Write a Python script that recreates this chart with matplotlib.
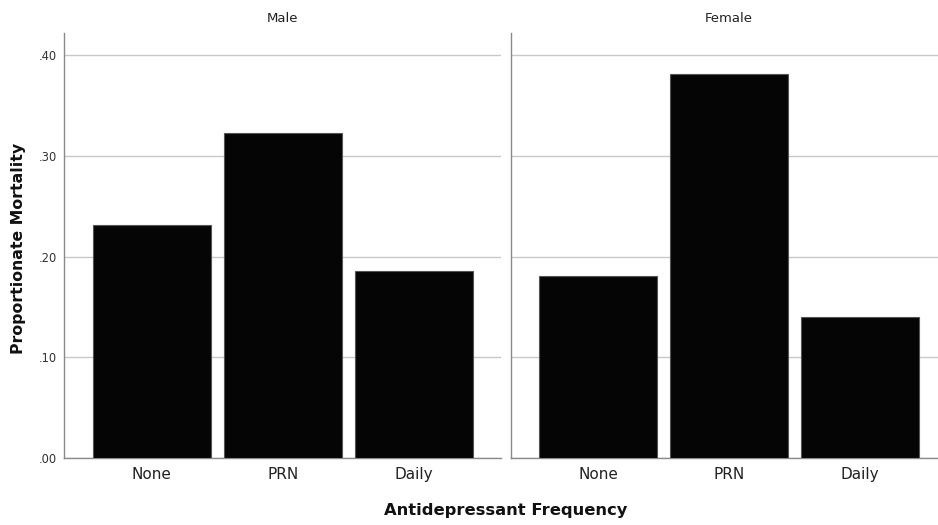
import matplotlib
matplotlib.use("Agg")
import matplotlib.pyplot as plt
from matplotlib.ticker import FuncFormatter

categories = ["None", "PRN", "Daily"]
panels = ["Male", "Female"]
male_values = [0.231, 0.323, 0.186]
female_values = [0.181, 0.381, 0.140]
y_ticks = [0.0, 0.1, 0.2, 0.3, 0.4]

W, H = 938, 525
fig = plt.figure(figsize=(W / 100, H / 100), dpi=100)
plt.rcParams['font.family'] = ['DejaVu Sans']

grid_c = "#c8c8c8"
spine_c = "#8a8a8a"

def px_axes(x0, x1, y0, y1):
    return fig.add_axes([x0 / W, 1 - y1 / H, (x1 - x0) / W, (y1 - y0) / H])

ax_m = px_axes(64.3, 501, 33.3, 458.3)
ax_f = px_axes(510.7, 947.4, 33.3, 458.3)

for ax, title, vals in [(ax_m, panels[0], male_values), (ax_f, panels[1], female_values)]:
    x = list(range(len(categories)))
    ax.bar(x, vals, width=0.9, color="#050505", edgecolor="#555555", linewidth=0.8, zorder=3)
    ax.set_xlim(-0.666, 2.666)
    ax.set_ylim(0, 0.4216)
    ax.set_yticks(y_ticks)
    ax.yaxis.grid(True, color=grid_c, linewidth=1.0, zorder=0)
    ax.set_axisbelow(True)
    ax.set_xticks(x)
    ax.set_xticklabels(categories, fontsize=11, color="#222222")
    ax.tick_params(axis="x", length=0, pad=6)
    ax.tick_params(axis="y", length=0, pad=5, labelsize=8.3, labelcolor="#333333")
    for s in ["top", "right"]:
        ax.spines[s].set_visible(False)
    ax.spines["left"].set_color(spine_c)
    ax.spines["bottom"].set_color(spine_c)
    ax.spines["left"].set_linewidth(1.0)
    ax.spines["bottom"].set_linewidth(1.0)
    ax.set_title(title, fontsize=9.5, color="#222222", pad=8)

ax_m.yaxis.set_major_formatter(FuncFormatter(lambda v, p: ("%.2f" % v).lstrip("0")))
ax_f.set_yticklabels([])

fig.text(19 / W, 1 - 248 / H, "Proportionate Mortality", rotation=90, fontsize=11.3,
         fontweight="bold", ha="center", va="center", color="#111111")
fig.text(506 / W, 1 - 511 / H, "Antidepressant Frequency", fontsize=11.8,
         fontweight="bold", ha="center", va="center", color="#111111")

fig.savefig("out.png", dpi=100)
